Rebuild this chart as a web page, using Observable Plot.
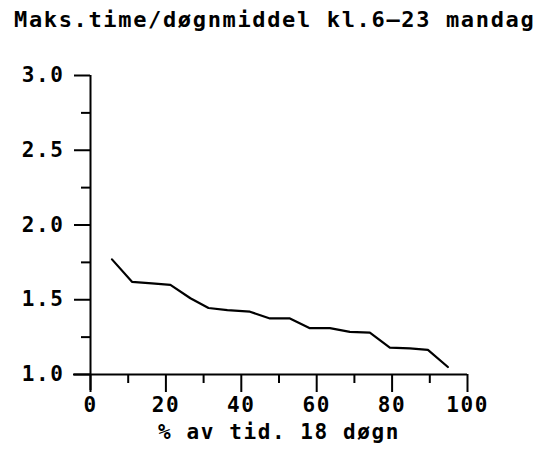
<!DOCTYPE html>
<html>
<head>
<meta charset="utf-8">
<script src="https://cdn.jsdelivr.net/npm/d3@7"></script>
<script src="https://cdn.jsdelivr.net/npm/@observablehq/plot@0.6"></script>
<style>
  html, body { margin: 0; padding: 0; background: #fff; }
  #wrap { width: 541px; height: 454px; overflow: hidden; position: relative; }
  #title {
    height: 40px; line-height: 40px; white-space: nowrap;
    font-family: "DejaVu Sans Mono", monospace; font-weight: bold;
    font-size: 22px; letter-spacing: 1.65px; padding-left: 14px; color: #000;
  }
  svg { display: block; letter-spacing: 1.6px; }
</style>
</head>
<body>
<div id="wrap">
  <div id="title">Maks.time/døgnmiddel kl.6–23 mandag</div>
  <div id="chart"></div>
</div>
<script>
const titleText = "Maks.time/døgnmiddel kl.6–23 mandag";
const xLabel = "% av tid. 18 døgn";
const pctTime = [5.7, 11.0, 16.3, 21.2, 26.5, 31.3, 36.3, 42.3, 47.6, 52.9, 58.2, 63.5, 68.8, 74.1, 79.4, 84.7, 89.5, 94.8];
const ratio = [1.77, 1.62, 1.61, 1.60, 1.51, 1.445, 1.43, 1.42, 1.375, 1.375, 1.31, 1.31, 1.285, 1.28, 1.18, 1.175, 1.165, 1.05];
const xMajor = [0, 20, 40, 60, 80, 100];
const xMinor = [10, 30, 50, 70, 90];
const yMajor = [1.0, 1.5, 2.0, 2.5, 3.0];
const yMinor = [1.25, 1.75, 2.25, 2.75];

const data = pctTime.map((x, i) => ({x, y: ratio[i]}));

const chart = Plot.plot({
  width: 541,
  height: 414,
  marginTop: 35,
  marginBottom: 80,
  marginLeft: 90,
  marginRight: 74,
  style: {fontFamily: "'DejaVu Sans Mono', monospace", fontWeight: "bold", fontSize: "21px", color: "#000", background: "#fff"},
  x: {domain: [0, 100]},
  y: {domain: [1, 3]},
  marks: [
    Plot.axisY(yMajor, {tickSize: 16, tickPadding: 10, strokeWidth: 2, tickFormat: d => d.toFixed(1), label: null}),
    Plot.axisY(yMinor, {tickSize: 9, strokeWidth: 2, text: null, label: null}),
    Plot.axisX(xMajor, {tickSize: 18, tickPadding: 5, strokeWidth: 2, label: xLabel, labelAnchor: "center", labelOffset: 64, labelArrow: "none"}),
    Plot.axisX(xMinor, {tickSize: 9, strokeWidth: 2, text: null, label: null}),
    Plot.ruleX(xMajor.slice(0, 1), {strokeWidth: 2, insetBottom: -16}),
    Plot.ruleY(yMajor.slice(0, 1), {strokeWidth: 2, insetLeft: -17}),
    Plot.line(data, {x: "x", y: "y", stroke: "#000", strokeWidth: 2.2})
  ]
});
document.getElementById("chart").appendChild(chart);
</script>
</body>
</html>
